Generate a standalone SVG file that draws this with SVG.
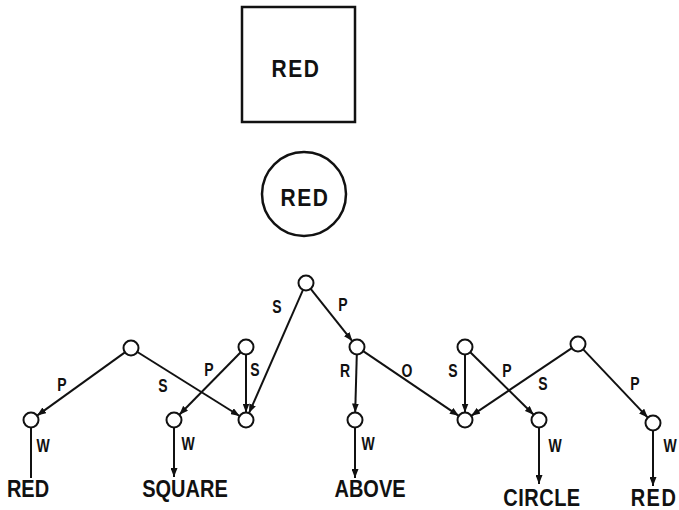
<svg xmlns="http://www.w3.org/2000/svg" width="679" height="510" viewBox="0 0 679 510">
  <style>
    .shape { fill: none; stroke: #111; stroke-width: 2.5; }
    .node { fill: #fff; stroke: #111; stroke-width: 2; }
    .edge { stroke: #111; stroke-width: 2; fill: none; }
    .arr { marker-end: url(#head); }
    .lbl { font-family: "Liberation Sans", Arial, sans-serif; font-weight: bold; font-size: 14px; fill: #111; text-anchor: middle; }
    .word { font-family: "Liberation Sans", Arial, sans-serif; font-weight: bold; font-size: 20px; fill: #111; text-anchor: middle; }
    .big { font-family: "Liberation Sans", Arial, sans-serif; font-weight: bold; font-size: 21px; fill: #111; text-anchor: middle; letter-spacing: 1.5px; }
  </style>
  <defs>
    <marker id="head" markerUnits="userSpaceOnUse" markerWidth="10" markerHeight="7" refX="9" refY="3.5" orient="auto">
      <path d="M0,0 L9,3.5 L0,7 z" fill="#111"/>
    </marker>
  </defs>
  <rect width="679" height="510" fill="#fff"/>

  <!-- square and circle shapes -->
  <g id="square">
    <rect class="shape" x="242" y="7" width="113" height="115"/>
    <text class="big" transform="translate(296,77) scale(1,1.13)">RED</text>
  </g>
  <g id="circle">
    <circle class="shape" cx="304" cy="194" r="42"/>
    <text class="big" transform="translate(305,206) scale(1,1.13)">RED</text>
  </g>

  <!-- connectors -->
  <g id="edges">
    <line class="edge arr" x1="303.0" y1="289.9" x2="249.0" y2="413.1"/>
    <line class="edge arr" x1="310.7" y1="288.9" x2="352.3" y2="341.1"/>
    <line class="edge arr" x1="124.9" y1="352.4" x2="37.1" y2="415.6"/>
    <line class="edge arr" x1="137.4" y1="352.0" x2="239.6" y2="416.0"/>
    <line class="edge arr" x1="240.7" y1="352.3" x2="179.3" y2="414.7"/>
    <line class="edge arr" x1="246" y1="354.5" x2="246" y2="412.5"/>
    <line class="edge arr" x1="356.8" y1="354.5" x2="355.2" y2="412.5"/>
    <line class="edge arr" x1="363.2" y1="351.2" x2="458.8" y2="415.8"/>
    <line class="edge arr" x1="465" y1="354.5" x2="465" y2="412.5"/>
    <line class="edge arr" x1="470.3" y1="352.3" x2="533.7" y2="414.7"/>
    <line class="edge arr" x1="571.8" y1="348.2" x2="471.2" y2="415.8"/>
    <line class="edge arr" x1="583.2" y1="349.4" x2="647.8" y2="417.6"/>
    <line class="edge" x1="31" y1="427.5" x2="31" y2="478"/>
    <line class="edge arr" x1="174" y1="427.5" x2="174" y2="477"/>
    <line class="edge arr" x1="355" y1="427.5" x2="355" y2="478"/>
    <line class="edge arr" x1="539" y1="427.5" x2="539" y2="484"/>
    <line class="edge arr" x1="653" y1="430.5" x2="653" y2="486"/>
  </g>

  <!-- connector labels -->
  <g id="edge-labels">
    <text class="lbl" transform="translate(277,313) scale(1,1.3)">S</text>
    <text class="lbl" transform="translate(343,311) scale(1,1.3)">P</text>
    <text class="lbl" transform="translate(62,391) scale(1,1.3)">P</text>
    <text class="lbl" transform="translate(163,392) scale(1,1.3)">S</text>
    <text class="lbl" transform="translate(209,376) scale(1,1.3)">P</text>
    <text class="lbl" transform="translate(255,376) scale(1,1.3)">S</text>
    <text class="lbl" transform="translate(345,377) scale(1,1.3)">R</text>
    <text class="lbl" transform="translate(407,377) scale(1,1.3)">O</text>
    <text class="lbl" transform="translate(453,377) scale(1,1.3)">S</text>
    <text class="lbl" transform="translate(507,377) scale(1,1.3)">P</text>
    <text class="lbl" transform="translate(543,390) scale(1,1.3)">S</text>
    <text class="lbl" transform="translate(635,390) scale(1,1.3)">P</text>
    <text class="lbl" transform="translate(43,452) scale(1,1.3)">W</text>
    <text class="lbl" transform="translate(188,450) scale(1,1.3)">W</text>
    <text class="lbl" transform="translate(368,450) scale(1,1.3)">W</text>
    <text class="lbl" transform="translate(555,452) scale(1,1.3)">W</text>
    <text class="lbl" transform="translate(670,452) scale(1,1.3)">W</text>
  </g>

  <!-- nodes -->
  <g id="n0"><circle class="node" cx="306" cy="283" r="7.5"/></g>
  <g id="n1"><circle class="node" cx="131" cy="348" r="7.5"/></g>
  <g id="n2"><circle class="node" cx="246" cy="347" r="7.5"/></g>
  <g id="n3"><circle class="node" cx="357" cy="347" r="7.5"/></g>
  <g id="n4"><circle class="node" cx="465" cy="347" r="7.5"/></g>
  <g id="n5"><circle class="node" cx="578" cy="344" r="7.5"/></g>
  <g id="b1"><circle class="node" cx="31" cy="420" r="7.5"/></g>
  <g id="b2"><circle class="node" cx="174" cy="420" r="7.5"/></g>
  <g id="b3"><circle class="node" cx="246" cy="420" r="7.5"/></g>
  <g id="b4"><circle class="node" cx="355" cy="420" r="7.5"/></g>
  <g id="b5"><circle class="node" cx="465" cy="420" r="7.5"/></g>
  <g id="b6"><circle class="node" cx="539" cy="420" r="7.5"/></g>
  <g id="b7"><circle class="node" cx="653" cy="423" r="7.5"/></g>

  <!-- word labels -->
  <g id="words">
    <text class="word" transform="translate(28,497) scale(1,1.15)">RED</text>
    <text class="word" transform="translate(185,497) scale(1,1.15)">SQUARE</text>
    <text class="word" transform="translate(370,497) scale(1,1.15)">ABOVE</text>
    <text class="word" transform="translate(542,506) scale(1,1.15)" letter-spacing="0.5">CIRCLE</text>
    <text class="word" transform="translate(654,506) scale(1,1.15)" letter-spacing="1.5">RED</text>
  </g>
</svg>
